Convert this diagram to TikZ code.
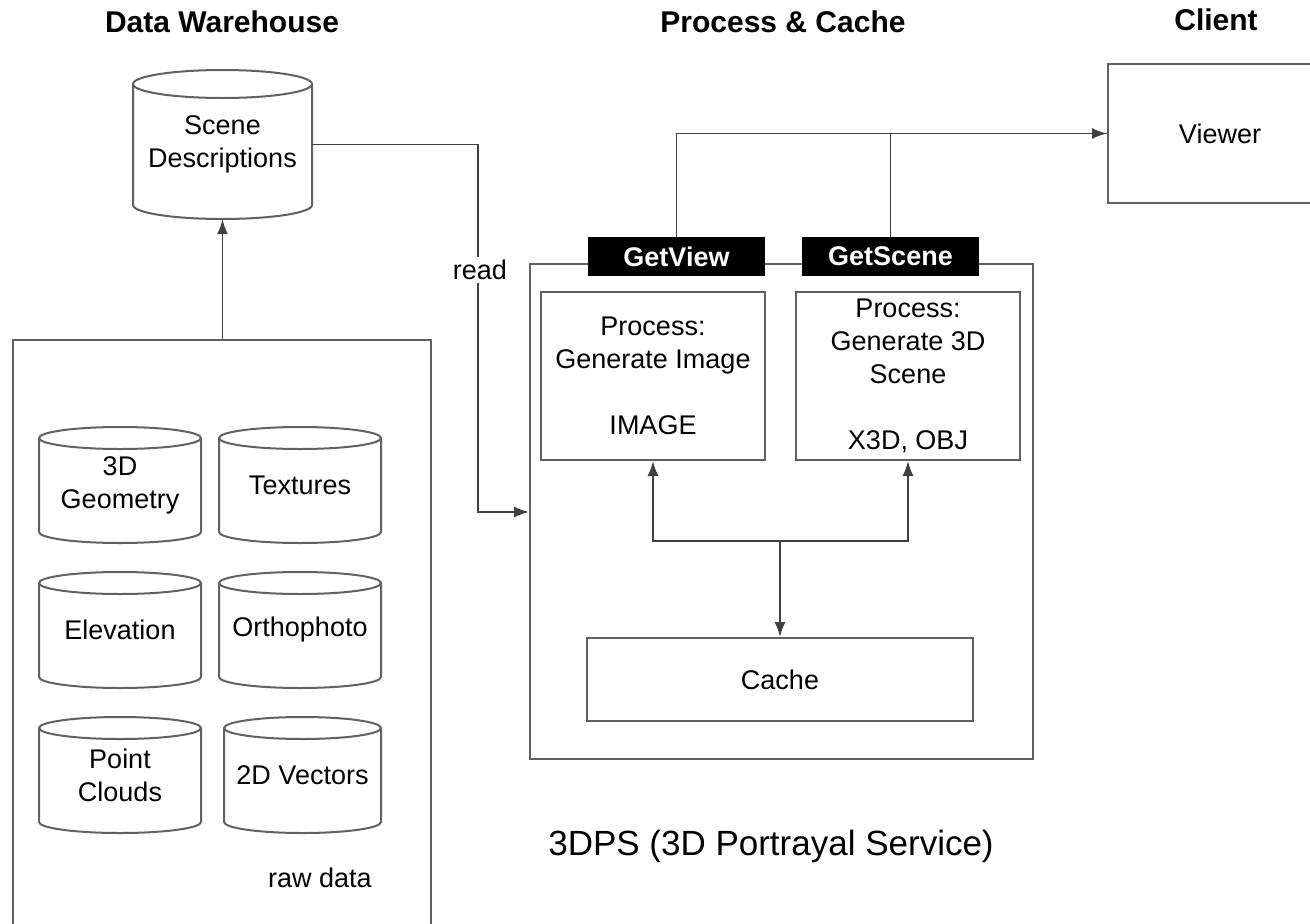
\documentclass[tikz,border=0pt]{standalone}
\usepackage{fontspec}
\setmainfont{Liberation Sans}
\usetikzlibrary{arrows.meta,calc}
% name, L, T, R, B, ry, text
\newcommand\dbcyl[7]{%
  \node[txt, minimum width={#4-#2}, minimum height={#5-#3}, inner sep=0pt] (#1) at ({(#2+#4)/2},{(#3+#5)/2}) {#7};
  \draw[boxline] (#2,{#3+#6}) -- (#2,{#5-#6}) arc[start angle=180,end angle=0,x radius={(#4-#2)/2},y radius=#6] -- (#4,{#3+#6});
  \draw[boxline] ({(#2+#4)/2},{#3+#6}) ellipse[x radius={(#4-#2)/2}, y radius=#6];
}
% name, L, T, R, B, text
\newcommand\boxat[6]{%
  \node[box, minimum width={#4-#2}, minimum height={#5-#3}] (#1) at ({(#2+#4)/2},{(#3+#5)/2}) {#6};
}
\begin{document}
\begin{tikzpicture}[x=1pt,y=-1pt,
  boxline/.style={draw=black!62, line width=2pt},
  box/.style={boxline, rectangle, inner sep=0pt, align=center, font=\fontsize{27}{33}\selectfont},
  txt/.style={align=center, font=\fontsize{27}{33}\selectfont},
  title/.style={font=\bfseries\fontsize{30}{36}\selectfont},
  tag/.style={fill=black, text=white, font=\bfseries\fontsize{27}{33}\selectfont, inner sep=0pt},
  arr/.style={draw=black!75, line width=1.8pt, -{Latex[length=15pt,width=11pt]}},
  conn/.style={draw=black!75, line width=1.8pt},
]
\clip (0,0) rectangle (1310,924);
\fill[white] (0,0) rectangle (1310,924);

% titles
\node[title] (t1) at (222,22) {Data Warehouse};
\node[title] (t2) at (783,22) {Process \& Cache};
\node[title] (t3) at (1216,20) {Client};

% data warehouse
\dbcyl{sd}{133}{70}{312}{219}{14}{Scene\\Descriptions}
\boxat{raw}{13}{340}{431}{1000}{}
\dbcyl{geo}{39}{427}{201}{543}{11}{3D\\Geometry}
\dbcyl{tex}{219}{427}{381}{543}{11}{Textures}
\dbcyl{ele}{39}{572}{201}{688}{11}{Elevation}
\dbcyl{ort}{219}{572}{381}{688}{11}{Orthophoto}
\dbcyl{pc}{39}{717}{201}{833}{11}{Point\\Clouds}
\dbcyl{vec}{224}{717}{381}{833}{11}{2D Vectors}
\node[txt] (rawlbl) at (320,878) {raw data};

% process & cache
\boxat{proc}{530}{264}{1033}{759}{}
\boxat{img}{541}{292}{765}{460}{Process:\\Generate Image\\~\\IMAGE}
\boxat{scn}{796}{292}{1020}{460}{Process:\\Generate 3D\\Scene\\~\\X3D, OBJ}
\boxat{cache}{587}{638}{973}{721}{Cache}
\node[tag, minimum width=177pt, minimum height=39pt] (gv) at (676.5,256.5) {GetView};
\node[tag, minimum width=177pt, minimum height=39pt] (gs) at (890.5,256.5) {GetScene};
\node[txt, font=\fontsize{35}{40}\selectfont] (svc) at (771,846) {3DPS (3D Portrayal Service)};

% client
\boxat{viewer}{1108}{64}{1332}{203}{Viewer}

% connectors
\draw[arr] (raw.north -| sd.south) -- (sd.south);
\coordinate (rd) at (478,512);
\draw[arr] (sd.east) -| (rd) -- (rd -| proc.west);
\node[txt, fill=white, inner sep=3pt] (read) at (480,270) {read};
\draw[arr] (gv.north) |- (viewer.west);
\draw[conn] (gs.north) |- (viewer.west);
\coordinate (j) at (780,541);
\draw[arr] (j) -- (cache.north);
\draw[arr] (j) -| (img.south);
\draw[arr] (j) -| (scn.south);
\end{tikzpicture}
\end{document}
